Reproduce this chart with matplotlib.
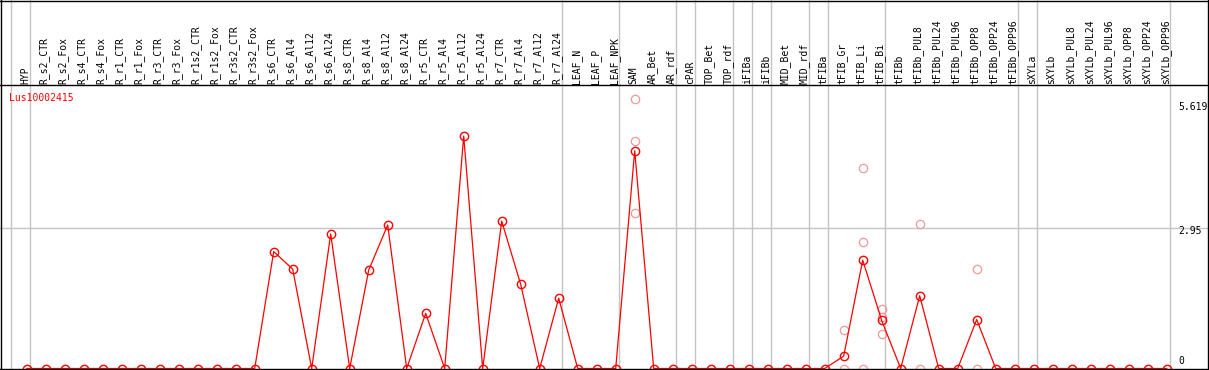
import numpy as np
import matplotlib
matplotlib.use("Agg")
import matplotlib.pyplot as plt

# --- data ---
GENE = "Lus10002415"

conditions = [
    "HYP",
    "R_s2_CTR", "R_s2_Fox", "R_s4_CTR", "R_s4_Fox", "R_r1_CTR", "R_r1_Fox",
    "R_r3_CTR", "R_r3_Fox", "R_r1s2_CTR", "R_r1s2_Fox", "R_r3s2_CTR", "R_r3s2_Fox",
    "R_s6_CTR", "R_s6_Al4", "R_s6_Al12", "R_s6_Al24", "R_s8_CTR", "R_s8_Al4",
    "R_s8_Al12", "R_s8_Al24", "R_r5_CTR", "R_r5_Al4", "R_r5_Al12", "R_r5_Al24",
    "R_r7_CTR", "R_r7_Al4", "R_r7_Al12", "R_r7_Al24",
    "LEAF_N", "LEAF_P", "LEAF_NPK",
    "SAM", "AR_Bet", "AR_rdf",
    "cPAR",
    "TOP_Bet", "TOP_rdf",
    "iFIBa",
    "iFIBb",
    "MID_Bet", "MID_rdf",
    "tFIBa",
    "tFIB_Gr", "tFIB_Li", "tFIB_Bi",
    "tFIBb", "tFIBb_PUL8", "tFIBb_PUL24", "tFIBb_PUL96", "tFIBb_OPP8",
    "tFIBb_OPP24", "tFIBb_OPP96",
    "sXYLa",
    "sXYLb", "sXYLb_PUL8", "sXYLb_PUL24", "sXYLb_PUL96", "sXYLb_OPP8",
    "sXYLb_OPP24", "sXYLb_OPP96",
]

# how many conditions sit in each block between grey separators
group_sizes = [1, 28, 3, 3, 1, 2, 1, 1, 2, 1, 3, 7, 1, 7]

mean_expr = [
    0, 0, 0, 0, 0, 0, 0, 0, 0, 0, 0, 0, 0,
    2.46, 2.09, 0, 2.83, 0, 2.07, 3.02, 0, 1.16, 0, 4.89, 0,
    3.10, 1.77, 0, 1.48,
    0, 0, 0,
    4.58, 0, 0,
    0,
    0, 0,
    0,
    0,
    0, 0,
    0,
    0.26, 2.28, 1.01,
    0, 1.53, 0, 0, 1.03, 0, 0,
    0,
    0, 0, 0, 0, 0, 0, 0,
]

# visible replicate points: (condition, value)
rep_cond = ["SAM", "SAM", "SAM",
            "tFIB_Gr", "tFIB_Gr",
            "tFIB_Li", "tFIB_Li", "tFIB_Li",
            "tFIB_Bi", "tFIB_Bi", "tFIB_Bi",
            "tFIBb_PUL8", "tFIBb_PUL8",
            "tFIBb_OPP8", "tFIBb_OPP8"]
rep_vals = [5.66, 4.78, 3.27,
            0.80, 0.0,
            4.21, 2.66, 0.0,
            1.25, 1.08, 0.72,
            3.05, 0.0,
            2.09, 0.0]

scale_labels = ["5.619", "2.95", "0"]
scale_values = [5.619, 2.95, 0.0]

# --- layout (pixel geometry of the reference) ---
W, H = 1209, 370
X0, DX = 26.7, 19.0          # pixel x of first condition, spacing
Y0, KY = 368.5, 47.53        # pixel y of zero, pixels per unit


def py(p):
    # pixel row -> data value
    return (Y0 - p) / KY


def px(p):
    # pixel column -> condition index
    return (p - X0) / DX


RED = "#ff0000"
PINK = "#ee9a9a"
GRID = "#c4c4c4"
MONO = "DejaVu Sans Mono"

fig = plt.figure(figsize=(W / 100, H / 100), dpi=100)
ax = fig.add_axes([0, 0, 1, 1])
ax.set_xlim(px(0), px(W))
ax.set_ylim(py(H), py(0))
ax.axis("off")

idx = np.arange(len(conditions))

# group separators
ends = np.cumsum(group_sizes) - 1
for e in np.concatenate([[-1], ends]):
    ax.axvline(e + 0.19, color=GRID, lw=1.0, zorder=1)

# grid line at the middle scale value
ax.axhline(2.95, xmin=0, xmax=1, color=GRID, lw=1.0, zorder=1)

# frame
ax.axhline(py(85), color="black", lw=1.0, zorder=5)
ax.axhline(py(369), color="black", lw=1.0, zorder=5)
ax.axhline(py(0.5), color="black", lw=1.0, zorder=5)
ax.axvline(px(1), color="black", lw=1.0, zorder=5)
ax.axvline(px(1208), color="black", lw=1.0, zorder=5)

# replicates
rep_x = [conditions.index(c) for c in rep_cond]
ax.plot(rep_x, rep_vals, linestyle="none", marker="o", ms=6,
        mfc="none", mec=PINK, mew=0.9, zorder=2)

# mean profile
ax.plot(idx, mean_expr, color=RED, lw=0.9, marker="o", ms=6,
        mfc="none", mec=RED, mew=1.0, zorder=3)

# condition labels
for i, name in enumerate(conditions):
    ax.text(i - 0.08, py(83.5), name, rotation=90, ha="center", va="bottom",
            fontsize=7, family=MONO, color="black")

# scale labels on the right
offsets = [-6, -3, 7]
for lab, val, off in zip(scale_labels, scale_values, offsets):
    ax.annotate(lab, xy=(px(1178), val), xytext=(0, off),
                textcoords="offset pixels", ha="left", va="center",
                fontsize=7, family=MONO, color="black")

ax.text(px(9), py(97.5), GENE, ha="left", va="center",
        fontsize=7, family=MONO, color=RED)

fig.savefig("out.png", dpi=100)
